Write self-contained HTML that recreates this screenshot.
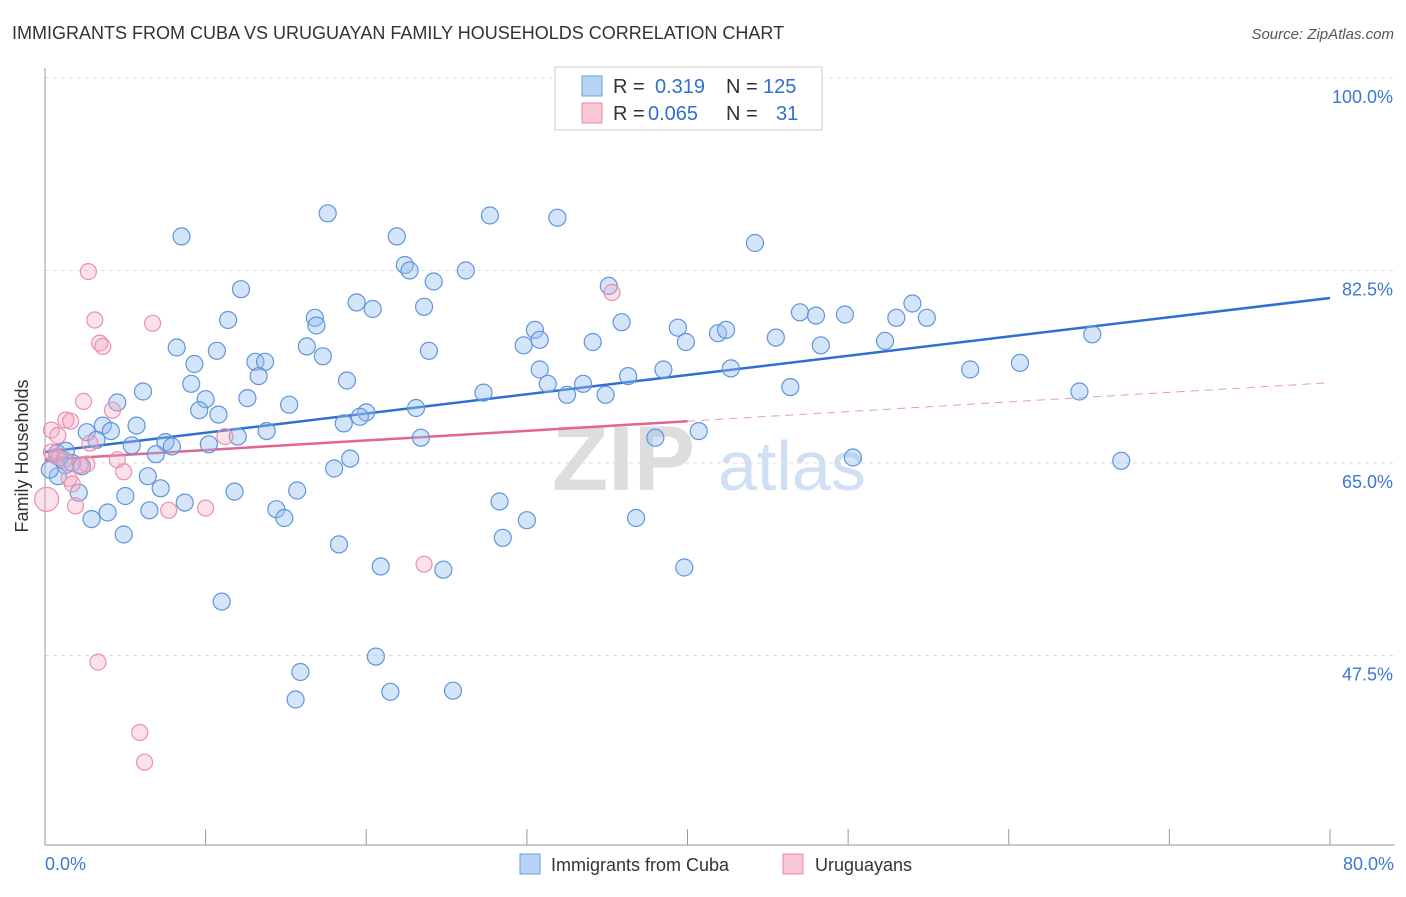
<!DOCTYPE html>
<html><head><meta charset="utf-8"><style>
body{margin:0;background:#fff;font-family:"Liberation Sans",sans-serif;}
svg text{font-family:"Liberation Sans",sans-serif;}
</style></head><body>
<svg id="chart" width="1406" height="892" xmlns="http://www.w3.org/2000/svg">
<text x="12" y="39" font-size="18" fill="#333">IMMIGRANTS FROM CUBA VS URUGUAYAN FAMILY HOUSEHOLDS CORRELATION CHART</text>
<text x="1394" y="39" font-size="15" fill="#555" font-style="italic" text-anchor="end">Source: ZipAtlas.com</text>
<g><text x="552" y="490" font-size="92" fill="#ddd" font-family="Liberation Serif" font-weight="bold">ZIP</text><text x="718" y="490" font-size="70" fill="#cfe0f5">atlas</text></g>
<g id="grid"></g><g id="axes"></g><g id="trends"></g><g id="pts"></g>
<text x="28" y="456" font-size="18" fill="#333" text-anchor="middle" transform="rotate(-90 28 456)">Family Households</text>
<g>
<rect x="555" y="67" width="267" height="63" fill="#fff" stroke="#ccc"/>
<rect x="582" y="76" width="20" height="20" fill="#b8d3f5" stroke="#6a9fe0"/>
<rect x="582" y="103" width="20" height="20" fill="#f9c6d5" stroke="#e88aa8"/>
<text y="93" font-size="20"><tspan x="613" fill="#333">R = </tspan><tspan x="655" fill="#2f6fd0">0.319</tspan><tspan x="726" fill="#333">N = </tspan><tspan x="763" fill="#2f6fd0">125</tspan></text>
<text y="120" font-size="20"><tspan x="613" fill="#333">R = </tspan><tspan x="648" fill="#2f6fd0">0.065</tspan><tspan x="726" fill="#333">N = </tspan><tspan x="776" fill="#2f6fd0">31</tspan></text>
</g>
<g>
<rect x="520" y="854" width="20" height="20" fill="#b8d3f5" stroke="#6a9fe0"/>
<text x="551" y="871" font-size="18" fill="#333">Immigrants from Cuba</text>
<rect x="783" y="854" width="20" height="20" fill="#f9c6d5" stroke="#e88aa8"/>
<text x="815" y="871" font-size="18" fill="#333">Uruguayans</text>
</g>
</svg>
<script>
const yTicks=[100,82.5,65,47.5];
const yTickLabels=["100.0%","82.5%","65.0%","47.5%"];
const xTicks=[0,10,20,30,40,50,60,70,80];
const xEndLabels=["0.0%","80.0%"];
const cubaX=[8.5,17.6,27.7,31.9,21.9,44.2,22.4,22.7,26.2,24.2,12.2,35.1,19.4,20.4,23.6,11.4,16.8,16.9,30.5,35.9,39.4,41.9,42.4,47.0,48.0,49.8,53.0,54.0,54.9,65.2,8.2,10.7,16.3,17.3,23.9,29.8,30.8,34.1,39.9,45.5,48.3,52.3,9.3,13.1,13.7,13.3,18.8,30.8,36.3,38.5,42.7,57.6,60.7,6.1,9.1,12.6,27.3,31.3,33.5,32.5,34.9,46.4,64.4,4.5,10.0,9.6,10.8,15.2,20.0,19.6,18.6,23.1,5.7,2.6,3.6,4.1,3.2,5.4,7.5,7.9,10.2,12.0,13.8,23.4,38.0,40.7,0.75,1.3,6.9,6.4,7.2,19.0,18.0,1.25,1.7,2.3,0.8,2.1,5.0,8.7,11.8,15.7,6.5,3.9,2.9,4.9,14.4,14.9,30.0,36.8,28.3,28.5,18.3,20.9,24.8,39.8,67.0,50.3,11.0,15.9,20.6,15.6,21.5,25.4,0.3,0.9];
const cubaY=[85.6,87.7,87.5,87.3,85.6,85.0,83.0,82.5,82.5,81.5,80.8,81.1,79.6,79.0,79.2,78.0,78.2,77.5,77.1,77.8,77.3,76.8,77.1,78.7,78.4,78.5,78.2,79.5,78.2,76.7,75.5,75.2,75.6,74.7,75.2,75.7,76.2,76.0,76.0,76.4,75.7,76.1,74.0,74.2,74.2,72.9,72.5,73.5,72.9,73.5,73.6,73.5,74.1,71.5,72.2,70.9,71.4,72.2,72.2,71.2,71.2,71.9,71.5,70.5,70.8,69.8,69.4,70.3,69.6,69.2,68.6,70.0,68.4,67.8,68.4,67.9,67.1,66.6,66.9,66.5,66.7,67.4,67.9,67.3,67.3,67.9,65.9,66.1,65.8,63.8,62.7,65.4,64.5,64.8,65.0,64.7,63.8,62.3,62.0,61.4,62.4,62.5,60.7,60.5,59.9,58.5,60.8,60.0,59.8,60.0,61.5,58.2,57.6,55.6,55.3,55.5,65.2,65.5,52.4,46.0,47.4,43.5,44.2,44.3,64.4,65.5];
const uruX=[2.7,3.1,6.7,3.4,3.6,35.3,2.4,4.2,1.3,1.6,0.4,0.8,2.8,0.4,0.7,2.6,4.5,4.9,11.2,1.5,1.7,0.1,1.9,7.7,10.0,23.6,3.3,5.9,6.2,1.2,2.2];
const uruY=[82.4,78.0,77.7,75.9,75.6,80.5,70.6,69.8,68.9,68.8,68.0,67.5,66.8,66.0,65.6,64.9,65.3,64.2,67.4,63.6,63.1,61.7,61.1,60.7,60.9,55.8,46.9,40.5,37.8,65.3,64.8];
const uruSize=[8,8,8,8,8,8,8,8,8,8,8,8,8,8,8,8,8,8,8,8,8,12,8,8,8,8,8,8,8,8,8];
const cubaTrend=[66.0,80.0];   // value at x=0 and x=80
const uruTrend=[65.3,72.3];    // value at x=0 and x=80
const uruSolidEnd=40;

const X0=45,X1=1330,Y100=78,PX=11;
const sx=v=>X0+(X1-X0)*v/80;
const sy=v=>Y100+(100-v)*PX;
const NS="http://www.w3.org/2000/svg";
function mk(tag,attrs,parent){const e=document.createElementNS(NS,tag);for(const k in attrs)e.setAttribute(k,attrs[k]);parent.appendChild(e);return e;}
const grid=document.getElementById('grid'),axes=document.getElementById('axes'),trends=document.getElementById('trends'),pts=document.getElementById('pts');
yTicks.forEach((t,i)=>{
  const l=mk('line',{x1:X0,x2:1395,y1:sy(t),y2:sy(t),stroke:'#ddd','stroke-dasharray':'4,4'},grid);
  
  
  const tx=mk('text',{x:1393,y:sy(t)+25,'font-size':18,fill:'#3a78d4','text-anchor':'end'},grid);
  tx.textContent=yTickLabels[i];
  
  
});
const la=mk('line',{x1:X0,x2:X0,y1:68,y2:845,stroke:'#999'},axes);


const lb=mk('line',{x1:X0,x2:1395,y1:845,y2:845,stroke:'#999'},axes);


xTicks.forEach(t=>{
  const l=mk('line',{x1:sx(t),x2:sx(t),y1:829,y2:845,stroke:'#999'},axes);
  
  
});
[[0,'start',X0],[1,'end',1394]].forEach(([i,a,x])=>{
  const t=mk('text',{x:x,y:870,'font-size':18,fill:'#3a78d4','text-anchor':a},axes);
  t.textContent=xEndLabels[i];
  
  
});
const ut=v=>uruTrend[0]+(uruTrend[1]-uruTrend[0])*v/80;
const t1=mk('line',{x1:sx(0),y1:sy(cubaTrend[0]),x2:sx(80),y2:sy(cubaTrend[1]),stroke:'#2f6fd0','stroke-width':2.5},trends);


const t2=mk('line',{x1:sx(0),y1:sy(ut(0)),x2:sx(uruSolidEnd),y2:sy(ut(uruSolidEnd)),stroke:'#e06590','stroke-width':2.5},trends);


const t3=mk('line',{x1:sx(uruSolidEnd),y1:sy(ut(uruSolidEnd)),x2:sx(80),y2:sy(ut(80)),stroke:'#e89ab4','stroke-width':1,'stroke-dasharray':'8,6'},trends);


cubaX.forEach((v,i)=>{
  const c=mk('circle',{cx:sx(v),cy:sy(cubaY[i]),r:8.5,fill:'rgba(150,190,240,0.4)',stroke:'#5f95dc','stroke-width':1.2},pts);
  
  
});
uruX.forEach((v,i)=>{
  const c=mk('circle',{cx:sx(v),cy:sy(uruY[i]),r:uruSize[i],fill:'rgba(244,170,195,0.35)',stroke:'#ec8fae','stroke-width':1.2},pts);
  
  
});
</script>
</body></html>
